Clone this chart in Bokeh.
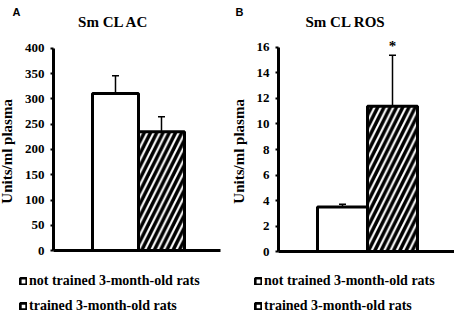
from bokeh.plotting import figure
from bokeh.models import (Range1d, FixedTicker, Whisker, ColumnDataSource, Legend,
                          LegendItem, Label, TeeHead)
from bokeh.layouts import row
from bokeh.embed import file_html
from bokeh.resources import INLINE

# ---- data ----
groups = ["not trained 3-month-old rats", "trained 3-month-old rats"]
ac_title = "Sm CL AC"
ros_title = "Sm CL ROS"
ac_values = [311, 235]
ac_errors = [35, 30]
ros_values = [3.5, 11.4]
ros_errors = [0.2, 4.0]
ac_ticks = [0, 50, 100, 150, 200, 250, 300, 350, 400]
ros_ticks = [0, 2, 4, 6, 8, 10, 12, 14, 16]
y_label = "Units/ml  plasma"

SERIF = "Liberation Serif"
W, H = 227, 319


def panel(letter, title, values, errors, ticks, x_range, y_range, axis_x, x_end,
          title_x, legend_loc, letter_x, star=False):
    p = figure(width=W, height=H, output_backend="svg", toolbar_location=None,
               x_range=x_range, y_range=y_range, title=None,
               min_border=0, min_border_left=0, min_border_right=0,
               min_border_top=0, min_border_bottom=0)
    xs = [i + 0.5 for i in range(len(values))]
    src_w = ColumnDataSource(dict(x=[xs[0]], top=[values[0]]))
    src_h = ColumnDataSource(dict(x=[xs[1]], top=[values[1]]))
    p.vbar(x="x", top="top", bottom=0, width=1, source=src_w,
           fill_color="white", line_color="black", line_width=3)
    p.vbar(x="x", top="top", bottom=0, width=1, source=src_h,
           fill_color="white", line_color="black", line_width=3,
           hatch_pattern="/", hatch_color="black", hatch_weight=3.5, hatch_scale=12.5)
    # legend keys: hidden copies of the bars, styled as the small boxed keys
    k0 = p.vbar(x="x", top="top", bottom=0, width=1, source=src_w, visible=False,
                fill_color=None, line_color="black", line_width=2.6)
    k1 = p.vbar(x="x", top="top", bottom=0, width=1, source=src_h, visible=False,
                fill_color=None, line_color="black", line_width=2.8)
    esrc = ColumnDataSource(dict(x=xs, lower=values,
                                 upper=[v + e for v, e in zip(values, errors)]))
    p.add_layout(Whisker(base="x", lower="lower", upper="upper", source=esrc,
                         line_color="black", line_width=1.5,
                         upper_head=TeeHead(size=7, line_width=1.5, line_color="black"),
                         lower_head=None))
    if star:
        p.add_layout(Label(x=xs[1], y=values[1] + errors[1], text="*",
                           text_align="center", text_baseline="alphabetic", y_offset=9,
                           text_font=SERIF, text_font_style="bold", text_font_size="15px",
                           text_color="black"))
    # panel title and letter
    p.add_layout(Label(x=title_x, y=H - 21, x_units="screen", y_units="screen",
                       text=title, text_align="center", text_baseline="middle",
                       text_font=SERIF, text_font_style="bold", text_font_size="15px",
                       text_color="black"))
    p.add_layout(Label(x=letter_x, y=H - 5, x_units="screen", y_units="screen",
                       text=letter, text_font="Liberation Sans", text_font_style="bold",
                       text_font_size="11px", text_baseline="top", text_color="black"))

    p.xgrid.visible = False
    p.ygrid.visible = False
    p.outline_line_color = None

    p.xaxis.fixed_location = 0
    p.xaxis.bounds = (axis_x, x_end)
    p.xaxis.ticker = FixedTicker(ticks=[])
    p.xaxis.major_tick_line_color = None
    p.xaxis.minor_tick_line_color = None
    p.xaxis.major_label_text_font_size = "0px"
    p.xaxis.axis_line_width = 3
    p.xaxis.axis_line_color = "black"

    p.yaxis.fixed_location = axis_x
    p.yaxis.bounds = (ticks[0], ticks[-1])
    p.yaxis.ticker = FixedTicker(ticks=ticks)
    p.yaxis.axis_line_width = 3
    p.yaxis.axis_line_color = "black"
    p.yaxis.major_tick_in = 0
    p.yaxis.major_tick_out = 3
    p.yaxis.major_tick_line_width = 2
    p.yaxis.minor_tick_line_color = None
    p.yaxis.major_label_standoff = 6
    p.yaxis.major_label_text_font = SERIF
    p.yaxis.major_label_text_font_style = "bold"
    p.yaxis.major_label_text_font_size = "13px"
    p.yaxis.major_label_text_color = "black"
    p.yaxis.axis_label = y_label
    p.yaxis.axis_label_standoff = 7
    p.yaxis.axis_label_text_font = SERIF
    p.yaxis.axis_label_text_font_style = "bold"
    p.yaxis.axis_label_text_font_size = "15px"
    p.yaxis.axis_label_text_color = "black"

    legend = Legend(items=[LegendItem(label=groups[0], renderers=[k0]),
                           LegendItem(label=groups[1], renderers=[k1])],
                    location=legend_loc, orientation="vertical",
                    glyph_width=8, glyph_height=8, label_height=14, spacing=9,
                    label_standoff=2, padding=0, margin=0,
                    border_line_color=None, background_fill_alpha=0,
                    label_text_font=SERIF, label_text_font_style="bold",
                    label_text_font_size="14px", label_text_color="black")
    p.add_layout(legend)
    return p


pa = panel("A", ac_title, ac_values, ac_errors, ac_ticks,
           Range1d(-2.0, 2.935), Range1d(-136.6, 495.0), -0.848, 2.783,
           113, (19, 5), 12)
pb = panel("B", ros_title, ros_values, ros_errors, ros_ticks,
           Range1d(-1.8, 2.74), Range1d(-5.333, 19.686), -0.78, 2.74,
           118, (27, 5), 8, star=True)

layout = row(pa, pb, spacing=0)
open("out.html", "w").write(file_html(layout, INLINE))
